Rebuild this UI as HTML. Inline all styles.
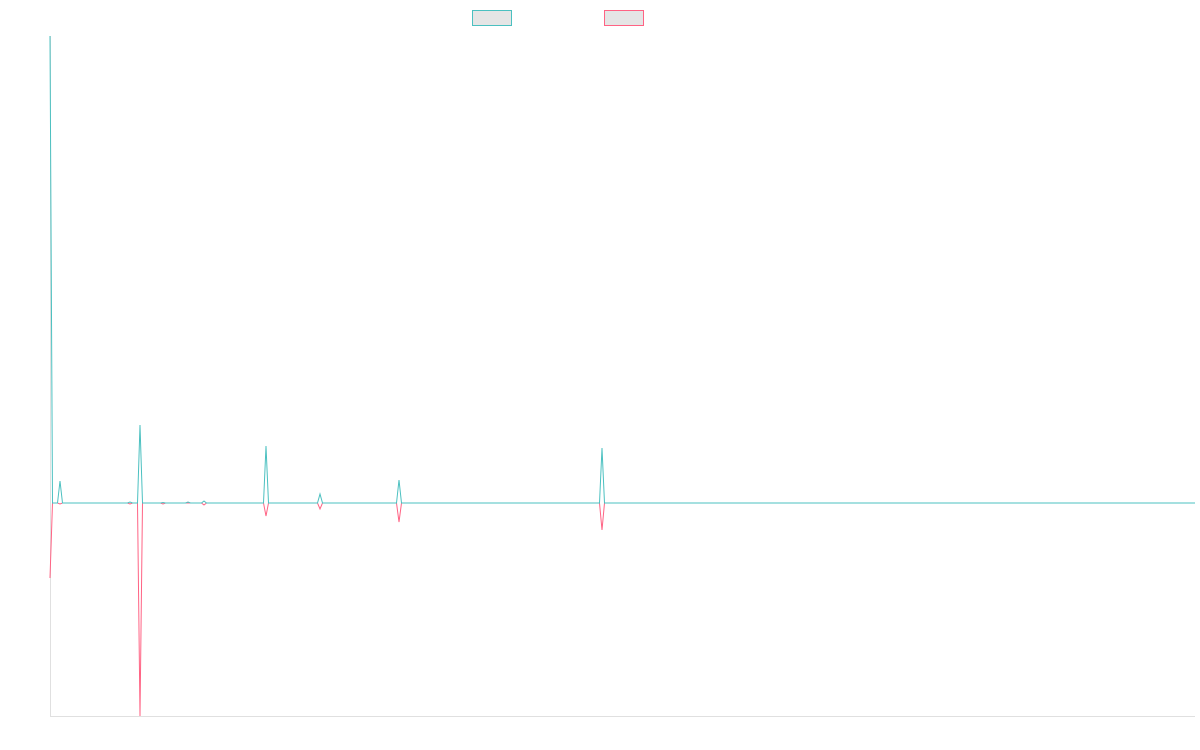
<!DOCTYPE html>
<html><head><meta charset="utf-8"><style>
html,body{margin:0;padding:0;background:#fff;width:1200px;height:750px;overflow:hidden;font-family:"Liberation Sans",sans-serif}
</style></head><body>
<svg id="chart" width="1200" height="750">
<rect x="472.5" y="10.5" width="39" height="15" fill="#e5e5e5" stroke="#4bc0c0" stroke-width="1"/>
<rect x="604.5" y="10.5" width="39" height="15" fill="#e5e5e5" stroke="#ff6384" stroke-width="1"/>
<line x1="50.5" y1="36" x2="50.5" y2="716" stroke="#e0e0e0"/>
<line x1="50" y1="716.5" x2="1195" y2="716.5" stroke="#e0e0e0"/>
</svg>
<script>
const spikeX = [10, 80, 90, 113, 138, 154, 216, 270, 349, 552];
const seriesA = [22, 1, 78, 0.5, 1, 2, 57, 9, 23, 55];
const seriesB = [-1, -1, -213, -1, 0, -2, -13, -6, -19, -27];
const startA = 467, startB = -75;
const X_MIN = 0, X_MAX = 1145, Y_MIN = -213, Y_MAX = 467;
const L = 50, R = 1195, T = 36, B = 716;
const sx = v => L + (v - X_MIN) / (X_MAX - X_MIN) * (R - L);
const sy = v => B - (v - Y_MIN) / (Y_MAX - Y_MIN) * (B - T);
const svg = document.getElementById('chart');
function build(start, vals, color, name) {
  const pts = [[X_MIN, start], [X_MIN + 2.5, 0]];
  spikeX.forEach((x, i) => { pts.push([x - 2.5, 0], [x, vals[i]], [x + 2.5, 0]); });
  pts.push([X_MAX, 0]);
  const p = document.createElementNS('http://www.w3.org/2000/svg', 'polyline');
  p.setAttribute('points', pts.map(q => sx(q[0]).toFixed(2) + ',' + sy(q[1]).toFixed(2)).join(' '));
  p.setAttribute('fill', 'none');
  p.setAttribute('stroke', color);
  p.setAttribute('stroke-width', '1');
  
  
  svg.appendChild(p);
}
build(startB, seriesB, '#ff6384', 'series-2-line');
build(startA, seriesA, '#4bc0c0', 'series-1-line');
</script>
</body></html>
